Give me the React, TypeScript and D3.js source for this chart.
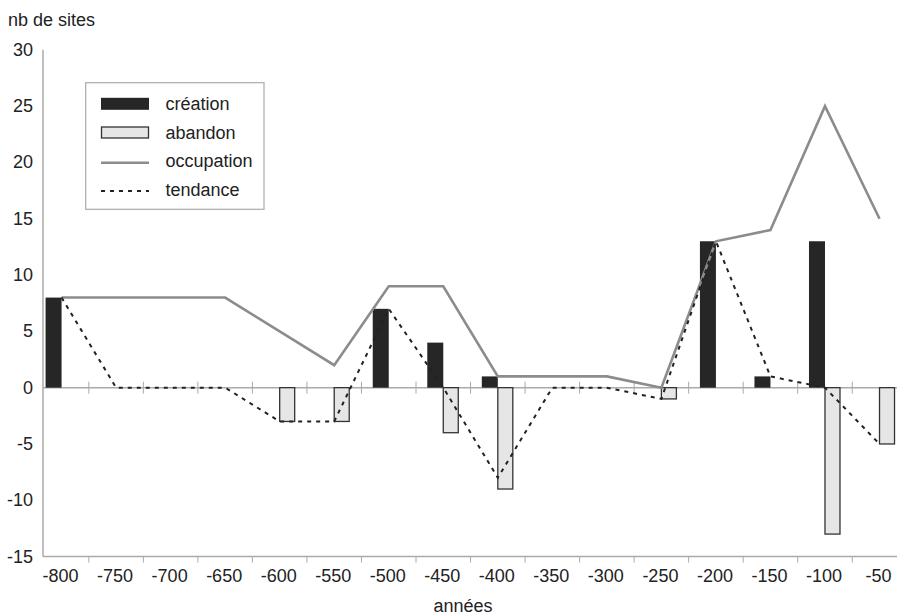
import React from "react";
import * as d3 from "d3";

const categories = ["-800","-750","-700","-650","-600","-550","-500","-450","-400","-350","-300","-250","-200","-150","-100","-50"];
const creation = [8,0,0,0,0,0,7,4,1,0,0,0,13,1,13,0];
const abandon = [0,0,0,0,-3,-3,0,-4,-9,0,0,-1,0,0,-13,-5];
const occupation = [8,8,8,8,5,2,9,9,1,1,1,0,13,14,25,15];
const tendance = [8,0,0,0,-3,-3,7,0,-8,0,0,-1,13,1,0,-5];
const yTicks = [30,25,20,15,10,5,0,-5,-10,-15];
const legendItems = ["création","abandon","occupation","tendance"];

const W = 897, H = 615;
const FONT = "'Liberation Sans', Arial, sans-serif";

export default function App() {
  const x = d3.scaleBand<string>().domain(categories).range([34.3, 34.3 + 16 * 54.53]).padding(0);
  const y = d3.scaleLinear().domain([-15, 30]).range([556.6, 49.8]);
  const bw = x.bandwidth();
  const cx = (c: string) => (x(c) as number) + bw / 2;
  const barW = 16;
  const axisLeft = 43;

  const lineGen = d3.line<number>().x((_, i) => cx(categories[i])).y((d) => y(d));

  const boundaries = categories.slice(1).map((c) => x(c) as number);

  return (
    <svg width={W} height={H} style={{ position: "absolute", left: 0, top: 0, background: "#fff" }} fontFamily={FONT}>
      <rect width={W} height={H} fill="#fff" />
      {/* y axis label */}
      <text x={8} y={20} fontSize={18} fill="#222" dominantBaseline="central">nb de sites</text>
      {/* y axis */}
      <line x1={axisLeft} x2={axisLeft} y1={y(30)} y2={y(-15)} stroke="#aaa" strokeWidth={1.5} />
      {yTicks.map((t) => (
        <text key={t} x={33} y={y(t)} fontSize={18} fill="#222" textAnchor="end" dominantBaseline="central">{t}</text>
      ))}
      {/* bottom axis */}
      <line x1={axisLeft} x2={W} y1={y(-15)} y2={y(-15)} stroke="#aaa" strokeWidth={1.5} />
      {boundaries.map((b, i) => (
        <line key={"bt" + i} x1={b} x2={b} y1={y(-15)} y2={y(-15) + 6} stroke="#aaa" strokeWidth={1} />
      ))}
      {categories.map((c) => (
        <text key={"xl" + c} x={cx(c) - 1} y={576} fontSize={18} fill="#222" textAnchor="middle" dominantBaseline="central">{c}</text>
      ))}
      <text x={463} y={606} fontSize={18} fill="#222" textAnchor="middle" dominantBaseline="central">années</text>
      {/* zero line */}
      <line x1={axisLeft} x2={W} y1={y(0)} y2={y(0)} stroke="#aaa" strokeWidth={1.5} />
      {boundaries.map((b, i) => (
        <line key={"zt" + i} x1={b} x2={b} y1={y(0) - 6} y2={y(0) + 6} stroke="#aaa" strokeWidth={1} />
      ))}
      {/* bars */}
      {categories.map((c, i) =>
        creation[i] !== 0 ? (
          <rect key={"cr" + c} x={cx(c) - barW} width={barW} y={y(creation[i])} height={y(0) - y(creation[i])} fill="#262626" />
        ) : null
      )}
      {categories.map((c, i) =>
        abandon[i] !== 0 ? (
          <rect key={"ab" + c} x={cx(c)} width={barW - 1} y={y(0)} height={y(abandon[i]) - y(0)} fill="#e6e6e6" stroke="#333" strokeWidth={1.3} />
        ) : null
      )}
      {/* occupation */}
      <path d={lineGen(occupation) as string} fill="none" stroke="#8c8c8c" strokeWidth={2.6} />
      {/* tendance */}
      <path d={lineGen(tendance) as string} fill="none" stroke="#222" strokeWidth={2} strokeDasharray="4 5" />
      {/* legend */}
      <rect x={85.7} y={82.7} width={178.3} height={126.6} fill="#fff" stroke="#aaa" strokeWidth={1.2} />
      {legendItems.map((name, i) => {
        const ly = 103.8 + i * 28.7;
        return (
          <g key={name}>
            {i === 0 && <rect x={101} y={ly - 6} width={48} height={12} fill="#262626" />}
            {i === 1 && <rect x={101.5} y={ly - 5.5} width={47} height={11} fill="#e6e6e6" stroke="#333" strokeWidth={1.3} />}
            {i === 2 && <line x1={101} x2={149} y1={ly + 1.5} y2={ly + 1.5} stroke="#8c8c8c" strokeWidth={2.6} />}
            {i === 3 && <line x1={101} x2={149} y1={ly + 1} y2={ly + 1} stroke="#222" strokeWidth={2} strokeDasharray="4 5" />}
            <text x={165.5} y={ly} fontSize={18} fill="#222" dominantBaseline="central">{name}</text>
          </g>
        );
      })}
    </svg>
  );
}
